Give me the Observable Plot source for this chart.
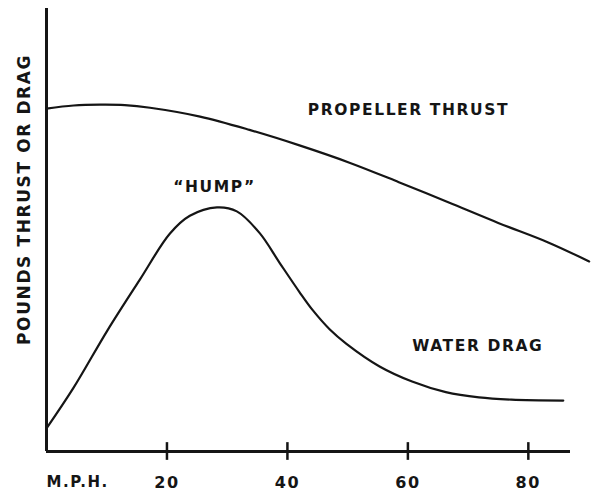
<!DOCTYPE html>
<html>
<head>
<meta charset="utf-8">
<script src="https://cdn.jsdelivr.net/npm/d3@7"></script>
<script src="https://cdn.jsdelivr.net/npm/@observablehq/plot@0.6"></script>
<style>
  html, body { margin: 0; padding: 0; background: #fff; }
  #chart svg text { letter-spacing: 1.6px; }
</style>
</head>
<body>
<div id="chart"></div>
<script>
// Propeller thrust curve (speed in m.p.h., relative pounds)
const thrustSpeed = [0, 4.5, 8.9, 13, 17.2, 25.5, 33.7, 42, 50.3, 58.5, 66.8, 75, 83.3, 90.1];
const thrustValue = [77.4, 78.1, 78.3, 78.2, 77.6, 75.6, 72.6, 69.1, 65.2, 60.8, 56.2, 51.6, 47.2, 42.9];

// Water drag curve
const dragSpeed = [0, 4.5, 10.1, 15.5, 20.5, 23.8, 28.3, 31.6, 35.4, 38.7, 42.0, 44.2, 47.0, 49.8, 55.3, 60.7, 66.3, 71.8, 77.2, 85.8];
const dragValue = [5.2, 14.4, 27.3, 38.8, 49.2, 53.2, 55.1, 54.2, 49.3, 42.6, 36.0, 31.9, 27.6, 24.3, 19.2, 15.8, 13.4, 12.2, 11.7, 11.5];

// Axis ticks and labels
const xTicks = [20, 40, 60, 80];
const xUnitLabel = "M.P.H.";
const yAxisLabel = "POUNDS THRUST OR DRAG";

// Curve annotations
const annoText = ["PROPELLER THRUST", "\u201CHUMP\u201D", "WATER DRAG"];
const annoSpeed = [60.1, 27.9, 71.6];
const annoValue = [77.0, 59.8, 23.9];

const thrust = thrustSpeed.map((x, i) => ({x, y: thrustValue[i]}));
const drag = dragSpeed.map((x, i) => ({x, y: dragValue[i]}));
const annos = annoText.map((t, i) => ({t, x: annoSpeed[i], y: annoValue[i]}));

const ink = "#151515";

const chart = Plot.plot({
  width: 591,
  height: 494,
  marginLeft: 46,
  marginRight: 21,
  marginTop: 8,
  marginBottom: 43,
  x: {domain: [0, 87], axis: null},
  y: {domain: [0, 100], axis: null},
  style: {background: "#fff", color: ink, fontFamily: "'DejaVu Sans', sans-serif", fontWeight: "bold"},
  marks: [
    Plot.ruleY([0], {stroke: ink, strokeWidth: 3}),
    Plot.ruleX([0], {stroke: ink, strokeWidth: 3}),
    Plot.ruleX(xTicks, {x: d => d, y1: -2, y2: 2, stroke: ink, strokeWidth: 2.5}),
    Plot.text(xTicks, {x: d => d, y: 0, dy: 31, text: d => String(d), fontSize: 16, fontWeight: "bold", fill: ink}),
    Plot.text([xUnitLabel], {x: 0, y: 0, dy: 31, text: d => d, textAnchor: "start", fontSize: 15, fontWeight: "bold", fill: ink}),
    Plot.line(thrust, {x: "x", y: "y", curve: "catmull-rom", stroke: ink, strokeWidth: 2.2}),
    Plot.line(drag, {x: "x", y: "y", curve: "catmull-rom", stroke: ink, strokeWidth: 2.2}),
    Plot.text(annos, {x: "x", y: "y", text: "t", fontSize: 15.5, fontWeight: "bold", fill: ink}),
    Plot.text([yAxisLabel], {x: 0, y: 56.9, dx: -22, text: d => d, rotate: -90, fontSize: 17, fontWeight: "bold", fill: ink})
  ]
});
document.getElementById("chart").append(chart);
</script>
</body>
</html>
